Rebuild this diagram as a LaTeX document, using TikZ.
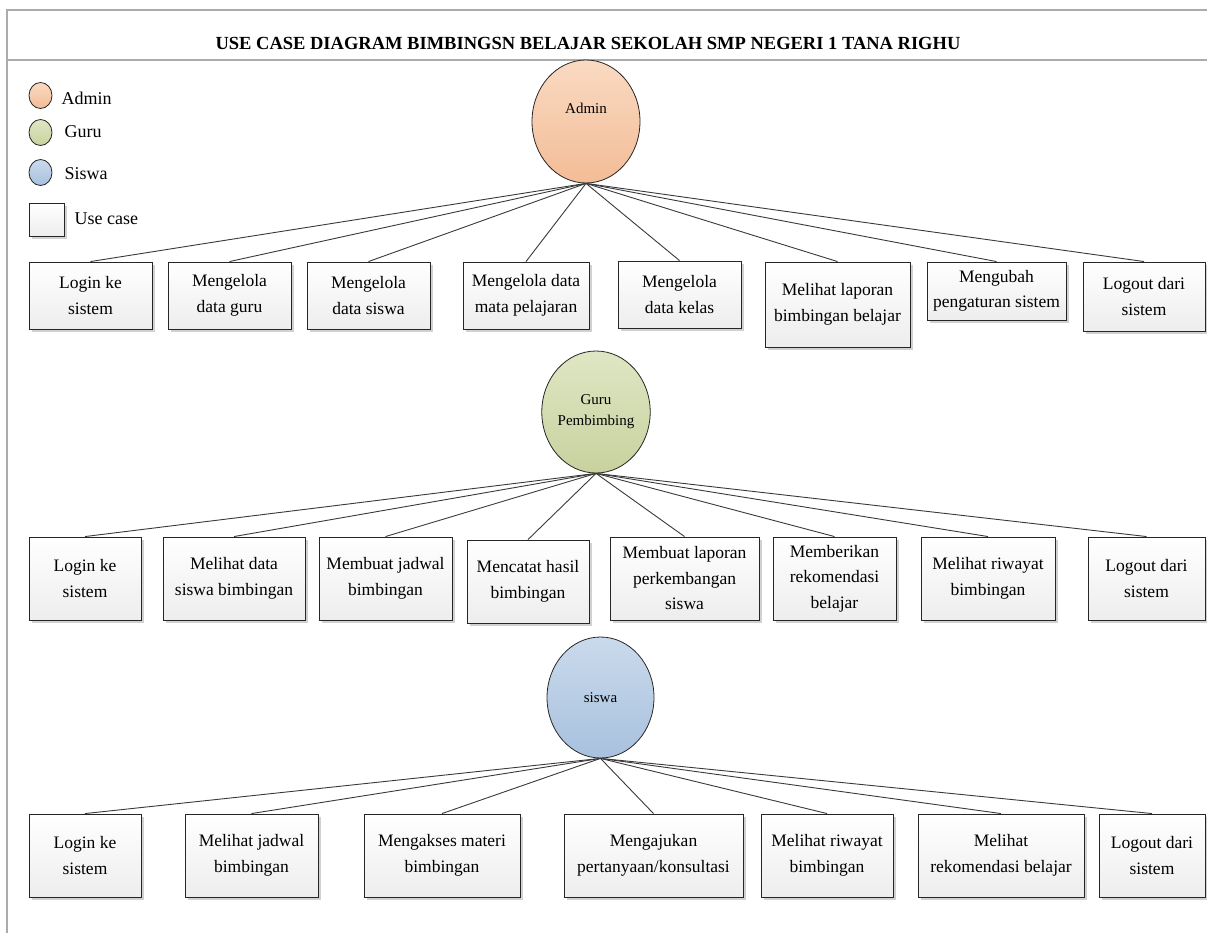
\documentclass[tikz,border=0pt]{standalone}
\usepackage{fontspec}
\setmainfont{Liberation Serif}
\usetikzlibrary{shapes.geometric,shadows}
\definecolor{admintop}{HTML}{FADAC2}
\definecolor{adminbot}{HTML}{F3BC96}
\definecolor{gurutop}{HTML}{DFE6C4}
\definecolor{gurubot}{HTML}{C8D29E}
\definecolor{siswatop}{HTML}{CADAEC}
\definecolor{siswabot}{HTML}{A8C1DE}
\tikzset{
  uc/.style={draw=gray!30!black, line width=0.9pt, top color=white, bottom color=gray!14,
    drop shadow={shadow xshift=3pt, shadow yshift=-3pt, fill=gray!45, opacity=0.8},
    align=center, inner sep=0pt, font=\fontsize{17.5}{25.5}\selectfont},
  actor/.style={ellipse, draw=gray!30!black, line width=0.8pt, inner sep=0pt,
    align=center, font=\fontsize{15}{21}\selectfont},
  link/.style={draw=gray!45!black, line width=0.9pt},
  frame/.style={draw=gray!65, line width=1.6pt}
}
\begin{document}
\begin{tikzpicture}[x=1pt,y=-1pt]
\useasboundingbox (0,0) rectangle (1207,933);
% frame and title
\draw[frame] (1207,10) -- (7,10) -- (7,933);
\draw[frame] (7,60) -- (1207,60);
\node[font=\bfseries\fontsize{18.5}{22}\selectfont] (title) at (588,43)
  {USE CASE DIAGRAM BIMBINGSN BELAJAR SEKOLAH SMP NEGERI 1 TANA RIGHU};
% legend
\node[actor, minimum width=23pt, minimum height=26pt, top color=admintop, bottom color=adminbot] (lgadmin) at (40.5,95.5) {};
\node[anchor=west, font=\fontsize{18}{22}\selectfont] (lgadmintxt) at (58,98) {Admin};
\node[actor, minimum width=23pt, minimum height=26pt, top color=gurutop, bottom color=gurubot] (lgguru) at (40.5,132.5) {};
\node[anchor=west, font=\fontsize{18}{22}\selectfont] (lggurutxt) at (61,132) {Guru};
\node[actor, minimum width=23pt, minimum height=26pt, top color=siswatop, bottom color=siswabot] (lgsiswa) at (40.5,172.5) {};
\node[anchor=west, font=\fontsize{18}{22}\selectfont] (lgsiswatxt) at (61,174) {Siswa};
\node[uc, minimum width=35pt, minimum height=33pt] (lguc) at (46.5,219.5) {};
\node[anchor=west, font=\fontsize{18}{22}\selectfont] (lguctxt) at (71,219) {Use case};
% admin
\node[actor, minimum width=108pt, minimum height=123pt, top color=admintop, bottom color=adminbot,
  label={[font=\fontsize{15}{21}\selectfont, yshift=13pt]center:Admin}] (admin) at (586,121.5) {};
\node[uc, minimum width=123pt, minimum height=67pt] (a1) at (90.5,295.5) {Login ke\\sistem};
\node[uc, minimum width=123pt, minimum height=67pt] (a2) at (229.5,295.5) {Mengelola\\data guru};
\node[uc, minimum width=123pt, minimum height=67pt] (a3) at (368.5,295.5) {Mengelola\\data siswa};
\node[uc, minimum width=126pt, minimum height=67pt] (a4) at (526,295.5) {Mengelola data\\mata pelajaran};
\node[uc, minimum width=123pt, minimum height=67pt] (a5) at (679.5,294.5) {Mengelola\\data kelas};
\node[uc, minimum width=145pt, minimum height=85pt] (a6) at (837.5,304.5) {Melihat laporan\\bimbingan belajar};
\node[uc, minimum width=139pt, minimum height=58pt] (a7) at (996.5,291) {Mengubah\\pengaturan sistem};
\node[uc, minimum width=122pt, minimum height=69pt] (a8) at (1144,296.5) {Logout dari\\sistem};
\draw[link] (admin.south) -- (a1.north);
\draw[link] (admin.south) -- (a2.north);
\draw[link] (admin.south) -- (a3.north);
\draw[link] (admin.south) -- (a4.north);
\draw[link] (admin.south) -- (a5.north);
\draw[link] (admin.south) -- (a6.north);
\draw[link] (admin.south) -- (a7.north);
\draw[link] (admin.south) -- (a8.north);
% guru pembimbing
\node[actor, minimum width=106pt, minimum height=122pt, top color=gurutop, bottom color=gurubot] (guru) at (596,412) {Guru\\Pembimbing};
\node[uc, minimum width=112pt, minimum height=83pt] (b1) at (85,578.5) {Login ke\\sistem};
\node[uc, minimum width=142pt, minimum height=83pt] (b2) at (234,578.5) {Melihat data\\siswa bimbingan};
\node[uc, minimum width=133pt, minimum height=83pt] (b3) at (385.5,578.5) {Membuat jadwal\\bimbingan};
\node[uc, minimum width=122pt, minimum height=83pt] (b4) at (528,581.5) {Mencatat hasil\\bimbingan};
\node[uc, minimum width=149pt, minimum height=83pt] (b5) at (684.5,578.5) {Membuat laporan\\perkembangan\\siswa};
\node[uc, minimum width=123pt, minimum height=83pt] (b6) at (834.5,578.5) {Memberikan\\rekomendasi\\belajar};
\node[uc, minimum width=134pt, minimum height=83pt] (b7) at (988,578.5) {Melihat riwayat\\bimbingan};
\node[uc, minimum width=117pt, minimum height=83pt] (b8) at (1146.5,578.5) {Logout dari\\sistem};
\draw[link] (guru.south) -- (b1.north);
\draw[link] (guru.south) -- (b2.north);
\draw[link] (guru.south) -- (b3.north);
\draw[link] (guru.south) -- (b4.north);
\draw[link] (guru.south) -- (b5.north);
\draw[link] (guru.south) -- (b6.north);
\draw[link] (guru.south) -- (b7.north);
\draw[link] (guru.south) -- (b8.north);
% siswa
\node[actor, minimum width=107pt, minimum height=121pt, top color=siswatop, bottom color=siswabot] (siswa) at (600.5,697.5) {siswa};
\node[uc, minimum width=112pt, minimum height=83pt] (c1) at (85,855.5) {Login ke\\sistem};
\node[uc, minimum width=133pt, minimum height=83pt] (c2) at (251.5,855.5) {Melihat jadwal\\bimbingan};
\node[uc, minimum width=156pt, minimum height=83pt] (c3) at (442,855.5) {Mengakses materi\\bimbingan};
\node[uc, minimum width=179pt, minimum height=83pt] (c4) at (653.5,855.5) {Mengajukan\\pertanyaan/konsultasi};
\node[uc, minimum width=132pt, minimum height=83pt] (c5) at (827,855.5) {Melihat riwayat\\bimbingan};
\node[uc, minimum width=166pt, minimum height=83pt] (c6) at (1001,855.5) {Melihat\\rekomendasi belajar};
\node[uc, minimum width=106pt, minimum height=83pt] (c7) at (1152,855.5) {Logout dari\\sistem};
\draw[link] (siswa.south) -- (c1.north);
\draw[link] (siswa.south) -- (c2.north);
\draw[link] (siswa.south) -- (c3.north);
\draw[link] (siswa.south) -- (c4.north);
\draw[link] (siswa.south) -- (c5.north);
\draw[link] (siswa.south) -- (c6.north);
\draw[link] (siswa.south) -- (c7.north);
\end{tikzpicture}
\end{document}
